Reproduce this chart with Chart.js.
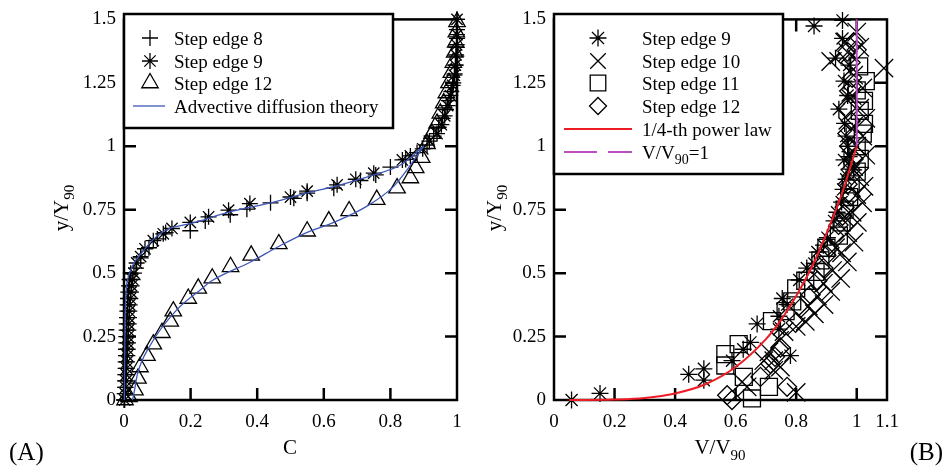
<!DOCTYPE html>
<html><head><meta charset="utf-8">
<script src="https://cdn.jsdelivr.net/npm/chart.js@4/dist/chart.umd.min.js"></script>
<style>
html,body{margin:0;padding:0;background:#fff;}
#wrapA{position:absolute;left:0;top:0;width:480px;height:468px;}
#wrapB{position:absolute;left:480px;top:0;width:464px;height:468px;}
</style></head><body>
<div id="wrapA"><canvas id="cA" width="480" height="468"></canvas></div>
<div id="wrapB"><canvas id="cB" width="464" height="468"></canvas></div>
<script>
// ---------- DATA ----------
const yTicks = [0, 0.25, 0.5, 0.75, 1, 1.25, 1.5];
const xTicksA = [0, 0.2, 0.4, 0.6, 0.8, 1];
const xTicksB = [0, 0.2, 0.4, 0.6, 0.8, 1, 1.1];

// Panel A: [C, y/Y90]
const edge8A = [[0.000,0],[0.002,0.025],[0.003,0.05],[0.003,0.075],[0.004,0.1],[0.005,0.125],[0.005,0.15],[0.006,0.175],[0.006,0.2],[0.007,0.225],[0.007,0.25],[0.008,0.275],[0.008,0.3],[0.009,0.325],[0.010,0.35],[0.011,0.375],[0.012,0.4],[0.013,0.425],[0.015,0.45],[0.017,0.475],[0.02,0.5],
 [0.036,0.52],[0.05,0.56],[0.075,0.6],[0.1,0.635],[0.125,0.66],[0.199,0.667],[0.244,0.705],[0.319,0.73],[0.369,0.752],[0.44,0.777],[0.51,0.795],[0.55,0.815],[0.63,0.835],[0.71,0.865],[0.756,0.887],[0.80,0.918],[0.846,0.948],[0.88,0.975],[0.91,1.005],[0.93,1.04],[0.945,1.075],[0.957,1.11],[0.967,1.145],[0.976,1.18],[0.983,1.215],[0.989,1.25],[0.993,1.285],[0.996,1.32],[0.998,1.355],[0.999,1.39],[1.0,1.425],[1.0,1.46],[1.0,1.5]];
const edge9A = [[0.002,0.0],[0.004,0.025],[0.005,0.05],[0.006,0.075],[0.007,0.1],[0.008,0.125],[0.009,0.15],[0.010,0.175],[0.011,0.2],[0.012,0.225],[0.012,0.25],[0.013,0.275],[0.014,0.3],[0.015,0.325],[0.016,0.35],[0.017,0.375],[0.019,0.4],[0.021,0.425],[0.023,0.45],[0.026,0.475],[0.03,0.5],
 [0.038,0.54],[0.05,0.565],[0.063,0.596],[0.088,0.628],[0.118,0.655],[0.144,0.676],[0.199,0.70],[0.254,0.722],[0.314,0.748],[0.378,0.774],[0.50,0.80],[0.55,0.823],[0.64,0.848],[0.696,0.87],[0.75,0.894],[0.836,0.946],[0.86,0.962],[0.897,0.99],[0.917,1.02],[0.94,1.05],[0.953,1.085],[0.963,1.12],[0.972,1.16],[0.98,1.2],[0.987,1.24],[0.992,1.28],[0.995,1.32],[0.997,1.36],[0.999,1.4],[1.0,1.44],[1.0,1.5]];
const edge12A = [[0.003,0.0],[0.015,0.012],[0.033,0.039],[0.042,0.085],[0.048,0.13],[0.069,0.175],[0.088,0.22],[0.114,0.265],[0.139,0.31],[0.148,0.35],[0.193,0.40],[0.223,0.44],[0.265,0.48],[0.32,0.525],[0.382,0.57],[0.465,0.615],[0.55,0.665],[0.615,0.705],[0.676,0.745],[0.759,0.79],[0.82,0.835],[0.86,0.875],[0.876,0.915],[0.894,0.955],[0.91,1.01],[0.925,1.05],[0.94,1.09],[0.95,1.13],[0.96,1.17],[0.968,1.21],[0.976,1.25],[0.983,1.29],[0.989,1.33],[0.993,1.37],[0.996,1.41],[0.998,1.45],[1.0,1.49]];
const theoryUpperA = [[0.001,0],[0.002,0.15],[0.003,0.3],[0.006,0.42],[0.012,0.48],[0.018,0.505],[0.03,0.54],[0.05,0.575],[0.09,0.635],[0.129,0.672],[0.199,0.695],[0.329,0.745],[0.45,0.78],[0.55,0.816],[0.65,0.848],[0.75,0.887],[0.83,0.926],[0.9,1.0]];
const theoryLowerA = [[0.025,0],[0.028,0.013],[0.04,0.1],[0.078,0.214],[0.159,0.356],[0.229,0.434],[0.259,0.466],[0.38,0.544],[0.47,0.609],[0.55,0.661],[0.63,0.70],[0.73,0.764],[0.81,0.842],[0.85,0.907],[0.9,1.0]];

// Panel B: [V/V90, y/Y90]
const edge9B = [[0.058,0],[0.152,0.026],[0.445,0.101],[0.495,0.123],[0.495,0.078],[0.588,0.155],[0.625,0.2],[0.649,0.227],[0.671,0.3],[0.743,0.279],[0.743,0.33],[0.781,0.175],[0.754,0.40],[0.77,0.376],[0.81,0.473],[0.835,0.52],[0.86,0.538],[0.87,0.583],[0.89,0.61],[0.903,0.64],[0.925,0.706],[0.935,0.74],[0.95,0.78],[0.955,0.83],[0.965,0.87],[0.975,0.91],[0.958,0.946],[0.975,0.959],[0.99,0.907],[0.97,1.0],[0.965,1.04],[0.96,1.09],[0.941,1.146],[0.97,1.2],[0.958,1.257],[0.975,1.32],[0.93,1.347],[0.953,1.425],[0.953,1.496],[0.859,1.474]];
const edge10B = [[0.80,0.03],[0.638,0.052],[0.621,0.071],[0.726,0.117],[0.748,0.13],[0.693,0.155],[0.726,0.155],[0.71,0.19],[0.745,0.235],[0.76,0.27],[0.8,0.29],[0.83,0.31],[0.86,0.34],[0.84,0.37],[0.892,0.376],[0.87,0.41],[0.914,0.428],[0.89,0.46],[0.947,0.479],[0.92,0.51],[0.969,0.544],[0.95,0.58],[0.93,0.6],[0.991,0.622],[0.97,0.66],[1.002,0.70],[0.96,0.72],[0.985,0.74],[1.019,0.777],[1.0,0.81],[1.024,0.842],[1.01,0.88],[0.99,0.92],[1.03,0.965],[1.0,1.0],[1.02,1.04],[0.99,1.08],[1.03,1.11],[1.01,1.15],[0.985,1.2],[1.02,1.23],[0.99,1.28],[0.914,1.334],[1.09,1.308],[0.97,1.37],[1.01,1.39],[1.0,1.45],[0.96,1.41]];
const edge11B = [[0.654,0.006],[0.71,0.052],[0.627,0.091],[0.566,0.136],[0.566,0.181],[0.61,0.22],[0.72,0.311],[0.765,0.35],[0.787,0.389],[0.80,0.44],[0.83,0.47],[0.864,0.505],[0.88,0.55],[0.9,0.6],[0.941,0.648],[0.95,0.7],[0.96,0.75],[0.975,0.8],[0.98,0.85],[1.0,0.9],[1.01,0.95],[1.0,1.0],[1.02,1.05],[1.024,1.088],[1.01,1.14],[1.024,1.179],[1.0,1.22],[1.03,1.257],[1.008,1.315]];
const edge12B = [[0.588,0.0],[0.572,0.019],[0.77,0.052],[0.682,0.091],[0.715,0.143],[0.73,0.17],[0.748,0.207],[0.798,0.304],[0.815,0.363],[0.848,0.415],[0.87,0.47],[0.89,0.52],[0.9,0.57],[0.91,0.6],[0.925,0.648],[0.94,0.69],[0.953,0.726],[0.96,0.76],[0.98,0.803],[0.97,0.85],[0.98,0.907],[0.99,0.95],[0.975,1.0],[0.969,1.05],[0.98,1.1],[0.965,1.15],[0.975,1.218],[0.985,1.27],[0.98,1.33],[0.969,1.373],[1.0,1.38],[0.99,1.41]];
const powerLawB = [[0.05,0],[0.2,0.002],[0.3,0.008],[0.4,0.026],[0.5,0.062],[0.6,0.13],[0.7,0.24],[0.75,0.316],[0.8,0.41],[0.85,0.52],[0.9,0.656],[0.95,0.81],[1.0,1.0]];
const unityB = [[1.0,1.0],[1.0,1.5]];

// ---------- HELPERS ----------
const FONT = '"Liberation Serif", "Times New Roman", serif';
const BLUE = '#3d57b8', RED = '#ee1c25', MAG = '#bb4fc0';
const pts = a => a.map(p => ({x: p[0], y: p[1]}));
const fmt = v => String(+(+v).toFixed(2));

function markerPath(ctx, style, r, x, y) {
  const q = Math.SQRT1_2 * r;
  ctx.beginPath();
  if (style === 'cross' || style === 'star') {
    ctx.moveTo(x, y - r); ctx.lineTo(x, y + r); ctx.moveTo(x - r, y); ctx.lineTo(x + r, y);
  }
  if (style === 'crossRot' || style === 'star') {
    ctx.moveTo(x - q, y - q); ctx.lineTo(x + q, y + q); ctx.moveTo(x - q, y + q); ctx.lineTo(x + q, y - q);
  }
  if (style === 'triangle') {
    let a = 0; ctx.moveTo(x + Math.sin(a) * r, y - Math.cos(a) * r);
    a += 2 * Math.PI / 3; ctx.lineTo(x + Math.sin(a) * r, y - Math.cos(a) * r);
    a += 2 * Math.PI / 3; ctx.lineTo(x + Math.sin(a) * r, y - Math.cos(a) * r);
    ctx.closePath();
  }
  if (style === 'rect') ctx.rect(x - q, y - q, 2 * q, 2 * q);
  if (style === 'rectRot') { ctx.moveTo(x, y - r); ctx.lineTo(x + r, y); ctx.lineTo(x, y + r); ctx.lineTo(x - r, y); ctx.closePath(); }
  ctx.stroke();
}

function richWidth(ctx, parts, size) {
  let w = 0;
  parts.forEach(p => { ctx.font = (p.sub ? Math.round(size * 0.72) : size) + 'px ' + FONT; w += ctx.measureText(p.t).width; });
  return w;
}
function drawRich(ctx, parts, x, y, size, align) {
  let w = richWidth(ctx, parts, size);
  let cx = align === 'center' ? x - w / 2 : x;
  ctx.textAlign = 'left'; ctx.textBaseline = 'alphabetic';
  parts.forEach(p => {
    const s = p.sub ? Math.round(size * 0.72) : size;
    ctx.font = s + 'px ' + FONT;
    ctx.fillText(p.t, cx, y + (p.sub ? size * 0.28 : 0));
    cx += ctx.measureText(p.t).width;
  });
}

const decor = {
  id: 'decor',
  beforeDatasetsDraw(chart, args, o) {
    const ctx = chart.ctx, ca = chart.chartArea, xs = chart.scales.x, ys = chart.scales.y;
    ctx.save();
    ctx.strokeStyle = '#000'; ctx.lineWidth = 2.5; ctx.lineCap = 'butt';
    const T = 12;
    ctx.beginPath();
    o.xTicks.forEach(v => { const px = xs.getPixelForValue(v);
      if (px > ca.left + 2 && px < ca.right - 2) { ctx.moveTo(px, ca.bottom); ctx.lineTo(px, ca.bottom - T); ctx.moveTo(px, ca.top); ctx.lineTo(px, ca.top + T); } });
    o.yTicks.forEach(v => { const py = ys.getPixelForValue(v);
      if (py > ca.top + 2 && py < ca.bottom - 2) { ctx.moveTo(ca.left, py); ctx.lineTo(ca.left + T, py); ctx.moveTo(ca.right, py); ctx.lineTo(ca.right - T, py); } });
    ctx.stroke();
    ctx.strokeRect(ca.left, ca.top, ca.right - ca.left, ca.bottom - ca.top);
    ctx.restore();
  },
  afterDatasetsDraw(chart, args, o) {
    const ctx = chart.ctx;
    ctx.save();
    const L = o.legend;
    ctx.fillStyle = '#fff'; ctx.fillRect(L.x0, L.y0, L.x1 - L.x0, L.y1 - L.y0);
    ctx.strokeStyle = '#000'; ctx.lineWidth = 2.5; ctx.strokeRect(L.x0, L.y0, L.x1 - L.x0, L.y1 - L.y0);
    L.items.forEach((it, i) => {
      const y = L.rows[i];
      ctx.save();
      if (it.kind === 'point') {
        ctx.strokeStyle = '#000'; ctx.lineWidth = 1.3;
        markerPath(ctx, it.style, it.r, L.mx, y);
      } else {
        ctx.strokeStyle = it.color; ctx.lineWidth = it.width;
        ctx.setLineDash(it.dash || []);
        ctx.beginPath(); ctx.moveTo(L.lx0, y); ctx.lineTo(L.lx1, y); ctx.stroke();
      }
      ctx.restore();
      ctx.fillStyle = '#000';
      drawRich(ctx, it.label, L.tx, y + 6.5, 19, 'left');
    });
    ctx.fillStyle = '#000';
    drawRich(ctx, o.xTitle.parts, o.xTitle.x, o.xTitle.y, 21, 'center');
    ctx.save();
    ctx.translate(o.yTitle.x, o.yTitle.y); ctx.rotate(-Math.PI / 2);
    drawRich(ctx, o.yTitle.parts, 0, 0, 21, 'center');
    ctx.restore();
    ctx.font = '25px ' + FONT; ctx.textAlign = o.panel.align; ctx.textBaseline = 'alphabetic';
    ctx.fillText(o.panel.t, o.panel.x, o.panel.y);
    ctx.restore();
  }
};

function scatterDS(label, data, style, r) {
  return { type: 'scatter', label, data: pts(data), pointStyle: style, pointRadius: r, pointHoverRadius: r,
    pointBorderColor: '#000', pointBackgroundColor: 'rgba(0,0,0,0)', pointBorderWidth: 1.3, showLine: false, clip: false, order: 1 };
}
function lineDS(label, data, color, width) {
  return { type: 'line', label, data: pts(data), borderColor: color, borderWidth: width, pointRadius: 0,
    showLine: true, fill: false, cubicInterpolationMode: 'monotone', clip: false, order: 0 };
}

function makeOptions(xTicks, yWidth, padRight, decorOpts) {
  return {
    responsive: false, animation: false, devicePixelRatio: 1,
    layout: { padding: { left: 0, right: padRight, top: 14, bottom: 0 } },
    plugins: { legend: { display: false }, tooltip: { enabled: false }, decor: decorOpts },
    scales: {
      x: { type: 'linear', min: xTicks[0], max: xTicks[xTicks.length - 1],
        afterBuildTicks: s => { s.ticks = xTicks.map(v => ({ value: v })); },
        afterFit: s => { s.height = 68; },
        grid: { display: false, drawTicks: false }, border: { display: false },
        ticks: { padding: 11, color: '#000', font: { family: FONT, size: 19 }, maxRotation: 0, autoSkip: false, callback: v => fmt(v) } },
      y: { type: 'linear', min: 0, max: 1.5,
        afterBuildTicks: s => { s.ticks = yTicks.map(v => ({ value: v })); },
        afterFit: s => { s.width = yWidth; },
        grid: { display: false, drawTicks: false }, border: { display: false },
        ticks: { padding: 8, color: '#000', font: { family: FONT, size: 19 }, autoSkip: false, callback: v => fmt(v) } }
    }
  };
}

// ---------- CHART A ----------
new Chart(document.getElementById('cA'), {
  data: { datasets: [
    scatterDS('Step edge 8', edge8A, 'cross', 8),
    scatterDS('Step edge 9', edge9A, 'star', 8),
    scatterDS('Step edge 12', edge12A, 'triangle', 9.5),
    lineDS('Advective diffusion theory', theoryUpperA, BLUE, 1.3),
    lineDS('Advective diffusion theory (2)', theoryLowerA, BLUE, 1.3)
  ] },
  options: makeOptions(xTicksA, 124, 23, {
    xTicks: xTicksA, yTicks,
    legend: { x0: 124, y0: 14, x1: 393, y1: 128, mx: 150, lx0: 133, lx1: 165, tx: 174, rows: [38, 61, 83, 106],
      items: [
        { kind: 'point', style: 'cross', r: 8, label: [{ t: 'Step edge 8' }] },
        { kind: 'point', style: 'star', r: 8, label: [{ t: 'Step edge 9' }] },
        { kind: 'point', style: 'triangle', r: 9.5, label: [{ t: 'Step edge 12' }] },
        { kind: 'line', color: BLUE, width: 1.3, label: [{ t: 'Advective diffusion theory' }] }
      ] },
    xTitle: { x: 290, y: 454, parts: [{ t: 'C' }] },
    yTitle: { x: 68, y: 208, parts: [{ t: 'y/Y' }, { t: '90', sub: true }] },
    panel: { t: '(A)', x: 9, y: 460, align: 'left' }
  }),
  plugins: [decor]
});

// ---------- CHART B ----------
new Chart(document.getElementById('cB'), {
  data: { datasets: [
    scatterDS('Step edge 9', edge9B, 'star', 8.5),
    scatterDS('Step edge 10', edge10B, 'crossRot', 13),
    scatterDS('Step edge 11', edge11B, 'rect', 12),
    scatterDS('Step edge 12', edge12B, 'rectRot', 9.5),
    lineDS('1/4-th power law', powerLawB, RED, 2),
    lineDS('V/V90=1', unityB, MAG, 2)
  ] },
  options: makeOptions(xTicksB, 74, 57, {
    xTicks: xTicksB, yTicks,
    legend: { x0: 74, y0: 14, x1: 303, y1: 174, mx: 118, lx0: 84, lx1: 152, tx: 162, rows: [38, 61, 83, 106, 129, 152],
      items: [
        { kind: 'point', style: 'star', r: 8.5, label: [{ t: 'Step edge 9' }] },
        { kind: 'point', style: 'crossRot', r: 11, label: [{ t: 'Step edge 10' }] },
        { kind: 'point', style: 'rect', r: 11, label: [{ t: 'Step edge 11' }] },
        { kind: 'point', style: 'rectRot', r: 8.5, label: [{ t: 'Step edge 12' }] },
        { kind: 'line', color: RED, width: 2, label: [{ t: '1/4-th power law' }] },
        { kind: 'line', color: MAG, width: 2, dash: [33, 11], label: [{ t: 'V/V' }, { t: '90', sub: true }, { t: '=1' }] }
      ] },
    xTitle: { x: 240, y: 454, parts: [{ t: 'V/V' }, { t: '90', sub: true }] },
    yTitle: { x: 21, y: 208, parts: [{ t: 'y/Y' }, { t: '90', sub: true }] },
    panel: { t: '(B)', x: 463, y: 460, align: 'right' }
  }),
  plugins: [decor]
});
</script>
</body></html>
